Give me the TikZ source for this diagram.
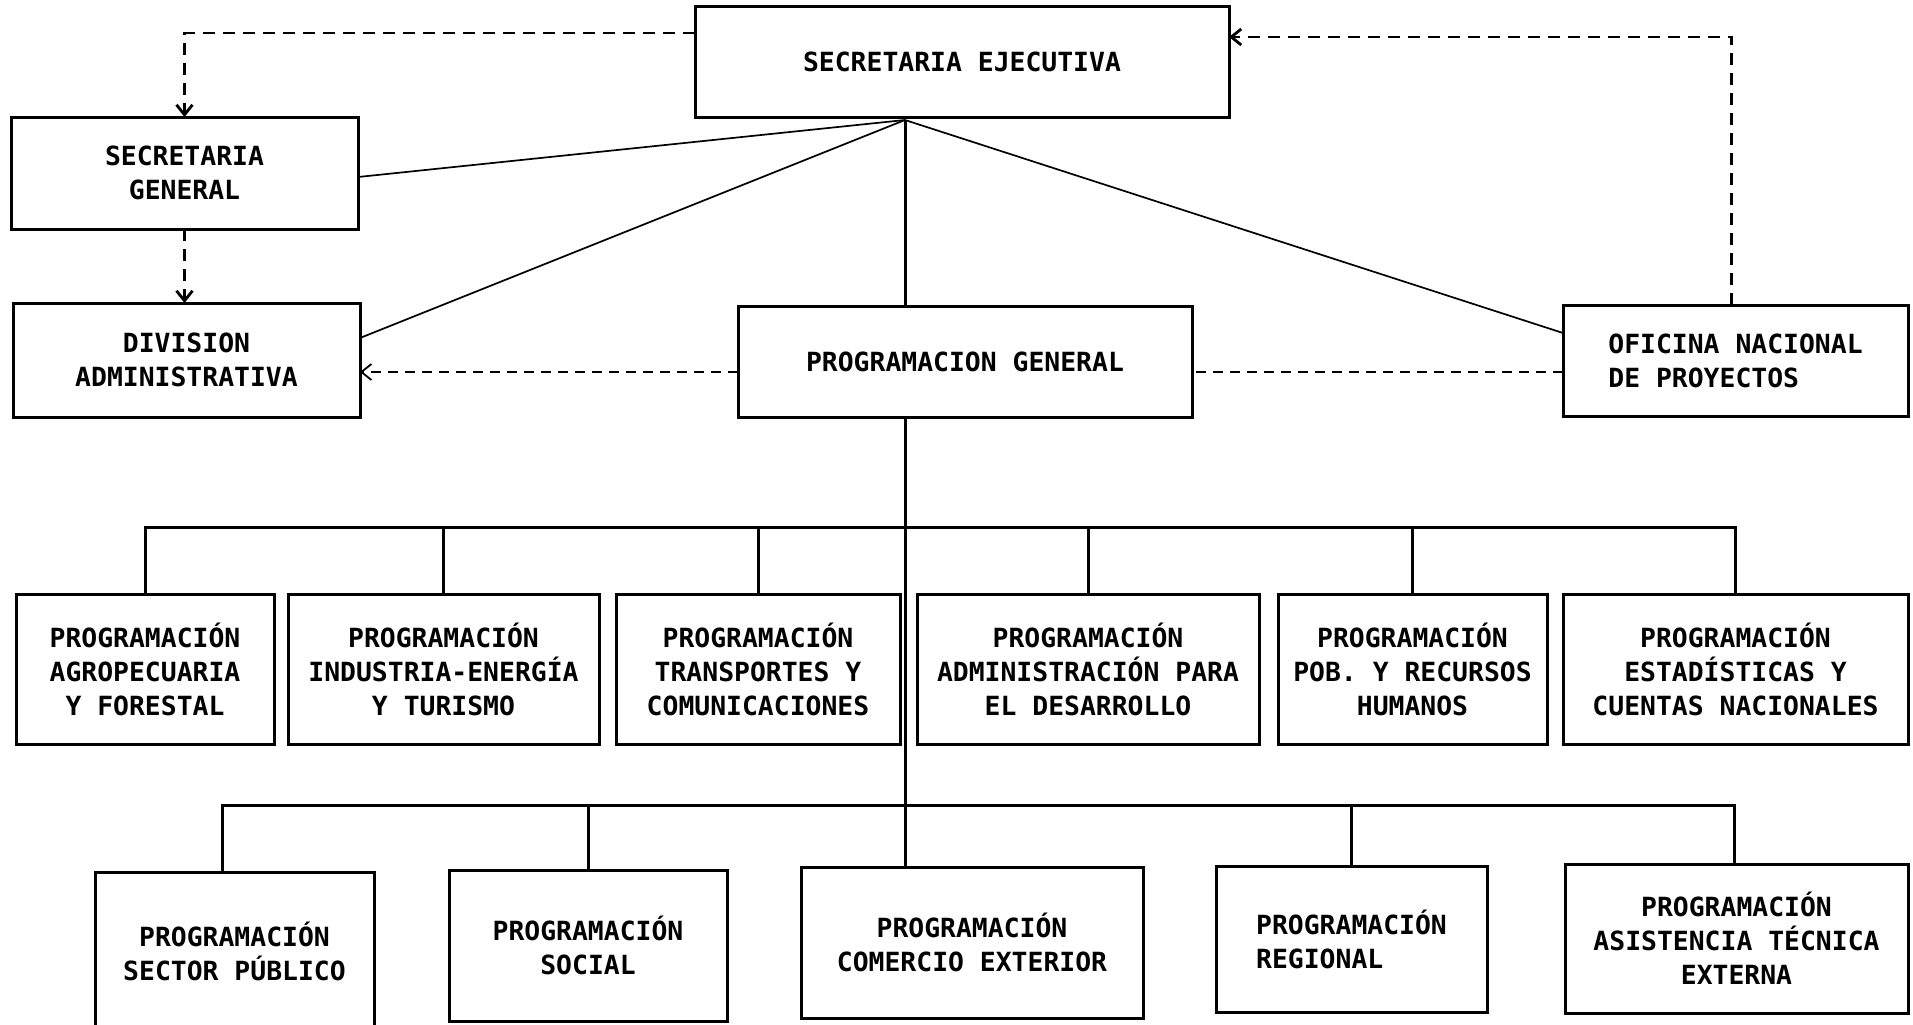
\documentclass[tikz,border=0pt]{standalone}
\usepackage{fontspec}
\newfontfamily\boxfont{DejaVu Sans Mono}
\usetikzlibrary{arrows.meta}
\begin{document}
\begin{tikzpicture}[x=0.5pt,y=-0.5pt,
  box/.style={draw, line width=1.5pt, inner sep=0pt, outer sep=0pt, align=center,
    font=\boxfont\bfseries\fontsize{13.2}{17}\selectfont},
  wh/.style 2 args={minimum width=#1*0.5pt, minimum height=#2*0.5pt},
  thinlink/.style={line width=0.85pt},
  tree/.style={line width=1.5pt},
  dsh/.style={line width=1.4pt, dash pattern=on 6pt off 4pt},
  dshthin/.style={line width=0.9pt, dash pattern=on 5pt off 3.5pt},
  tip/.style={-{Straight Barb[length=5pt,width=8pt]}}]
\useasboundingbox (0,0) rectangle (1913,1024);
\fill[white] (0,0) rectangle (1913,1024);
\clip (0,0) rectangle (1913,1024);

% top level
\node[box, wh={534}{111}] (SE) at (962,61.5) {SECRETARIA EJECUTIVA};
\node[box, wh={347}{112}] (SG) at (184.5,173) {SECRETARIA\\GENERAL};
\node[box, wh={347}{114}] (DA) at (186.5,360) {DIVISION\\ADMINISTRATIVA};
\node[box, wh={454}{111}] (PG) at (965,361.5) {PROGRAMACION GENERAL};
\node[box, wh={345}{111}, align=left] (ONP) at (1735.5,360.5) {OFICINA NACIONAL\\DE PROYECTOS};

% row 1
\node[box, wh={258}{150}] (B1) at (145,669) {PROGRAMACIÓN\\AGROPECUARIA\\Y FORESTAL};
\node[box, wh={311}{150}] (B2) at (443.5,669) {PROGRAMACIÓN\\INDUSTRIA-ENERGÍA\\Y TURISMO};
\node[box, wh={284}{150}] (B3) at (758,669) {PROGRAMACIÓN\\TRANSPORTES Y\\COMUNICACIONES};
\node[box, wh={342}{150}] (B4) at (1088,669) {PROGRAMACIÓN\\ADMINISTRACIÓN PARA\\EL DESARROLLO};
\node[box, wh={269}{150}] (B5) at (1412.5,669) {PROGRAMACIÓN\\POB. Y RECURSOS\\HUMANOS};
\node[box, wh={345}{150}] (B6) at (1735.5,669) {PROGRAMACIÓN\\ESTADÍSTICAS Y\\CUENTAS NACIONALES};

% row 2
\node[box, wh={279}{158}] (PSP) at (234.5,951) {PROGRAMACIÓN\\SECTOR PÚBLICO};
\node[box, wh={278}{151}] (SOC) at (588,945.5) {PROGRAMACIÓN\\SOCIAL};
\node[box, wh={342}{151}] (CE) at (972,942.5) {PROGRAMACIÓN\\COMERCIO EXTERIOR};
\node[box, wh={271}{146}, align=left] (REG) at (1351.5,939) {PROGRAMACIÓN\\REGIONAL};
\node[box, wh={343}{149}] (ATE) at (1736.5,938.5) {PROGRAMACIÓN\\ASISTENCIA TÉCNICA\\EXTERNA};

% solid links from Secretaria Ejecutiva
\coordinate (hub) at (905,120);
\draw[thinlink] (hub) -- ([yshift=-2pt]SG.east);
\draw[thinlink] (hub) -- ([yshift=11pt]DA.east);
\draw[thinlink] (hub) -- ([yshift=13.75pt]ONP.west);
\draw[tree] (hub) -- (hub |- PG.north);

% trunk and buses
\coordinate (bus1) at (905,527);
\coordinate (bus2) at (905,805);
\draw[tree] (PG.south -| hub) -- (CE.north -| hub);
\draw[tree] (B1.north) |- (bus1) -| (B6.north);
\foreach \n in {B2,B3,B4,B5} \draw[tree] (\n.north) -- (\n.north |- bus1);
\draw[tree] ([xshift=-6pt]PSP.north) |- (bus2) -| ([xshift=-1pt]ATE.north);
\foreach \n in {SOC,REG} \draw[tree] (\n.north) -- (\n.north |- bus2);

% dashed links
\coordinate (dl) at (0,372);
\draw[dsh, tip] ([yshift=14.25pt]SE.west) -| (SG.north);
\draw[dsh, tip] (SG.south) -- (SG.south |- DA.north);
\draw[dshthin, tip] (PG.west |- dl) -- (DA.east |- dl);
\draw[dshthin] (ONP.west |- dl) -- (PG.east |- dl);
\draw[dsh, tip] ([xshift=-2pt]ONP.north) |- ([yshift=12.25pt]SE.east);
\end{tikzpicture}
\end{document}
